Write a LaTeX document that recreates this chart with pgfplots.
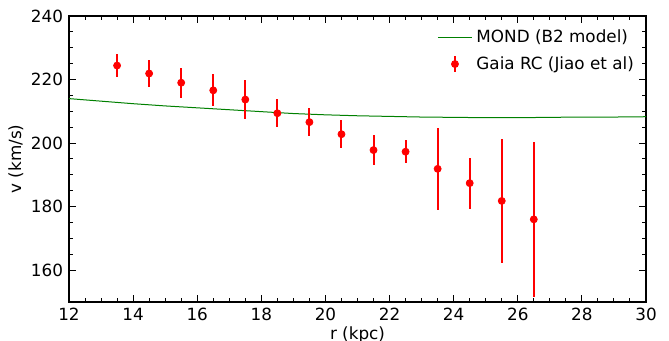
\documentclass[border=0pt]{standalone}
\usepackage{fontspec}
\setmainfont{DejaVu Sans}
\usepackage{pgfplots}
\pgfplotsset{compat=1.18}
\begin{document}
\fontsize{8.4}{10}\selectfont
\begin{tikzpicture}
\begin{axis}[
  scale only axis,
  width=288.5pt, height=143pt,
  xmin=12, xmax=30, ymin=150, ymax=240,
  xtick={12,14,...,30}, ytick={160,180,...,240},
  minor x tick num=3, minor y tick num=3,
  tick align=inside, tick pos=both,
  major tick length=3.5pt, minor tick length=2pt,
  every tick/.style={black, line width=0.5pt},
  axis line style={line width=0.6pt},
  /pgf/number format/assume math mode=true,
  tick label style={font=\fontsize{8.4}{10}\selectfont},
  label style={font=\fontsize{8.4}{10}\selectfont},
  xlabel={r (kpc)}, ylabel={v (km/s)},
  xlabel style={yshift=3pt},
  ylabel style={yshift=-2pt},
  legend style={draw=none, fill=none, at={(0.997,0.98)}, anchor=north east,
    font=\fontsize{8.4}{10}\selectfont, row sep=1.5pt},
  legend cell align=left,
]
\addplot[color={rgb,1:red,0;green,0.5;blue,0}, line width=0.5pt,
  legend image code/.code={\draw[color={rgb,1:red,0;green,0.5;blue,0}, line width=0.5pt] (0pt,0pt)--(17pt,0pt);}]
  coordinates {
  (12,214.0) (13,213.2) (14,212.4) (15,211.7) (16,211.1) (17,210.5)
  (18,209.9) (19,209.3) (20,208.9) (21,208.6) (22,208.4) (23,208.2)
  (24,208.1) (25,208.0) (26,208.0) (27,208.1) (28,208.2) (29,208.2) (30,208.3)
  };
\addlegendentry{MOND (B2 model)}
\addplot[only marks, red, mark=*, mark size=1.75pt,
  legend image code/.code={\draw[red, line width=1pt] (8.5pt,-3.8pt)--(8.5pt,3.8pt); \fill[red] (8.5pt,0pt) circle (1.75pt);},
  error bars/.cd, y dir=both, y explicit,
  error bar style={line width=1pt, red}, error mark=none]
  table[x=r, y=v, y error=e] {
  r v e
  13.5 224.4 3.5
  14.5 221.9 4.2
  15.5 219.0 4.7
  16.5 216.6 5.0
  17.5 213.7 6.1
  18.5 209.4 4.4
  19.5 206.6 4.5
  20.5 202.8 4.4
  21.5 197.8 4.6
  22.5 197.3 3.7
  23.5 191.9 12.8
  24.5 187.4 8.0
  25.5 181.8 19.5
  26.5 176.0 24.5
  };
\addlegendentry{Gaia RC (Jiao et al)}
\end{axis}
\pgfresetboundingbox
\path (current axis.south west) ++(-34.5pt,-19.5pt) coordinate (bl);
\path (current axis.north east) ++(11.5pt,8pt) coordinate (tr);
\path[use as bounding box] (bl) rectangle (tr);
\end{tikzpicture}
\end{document}
